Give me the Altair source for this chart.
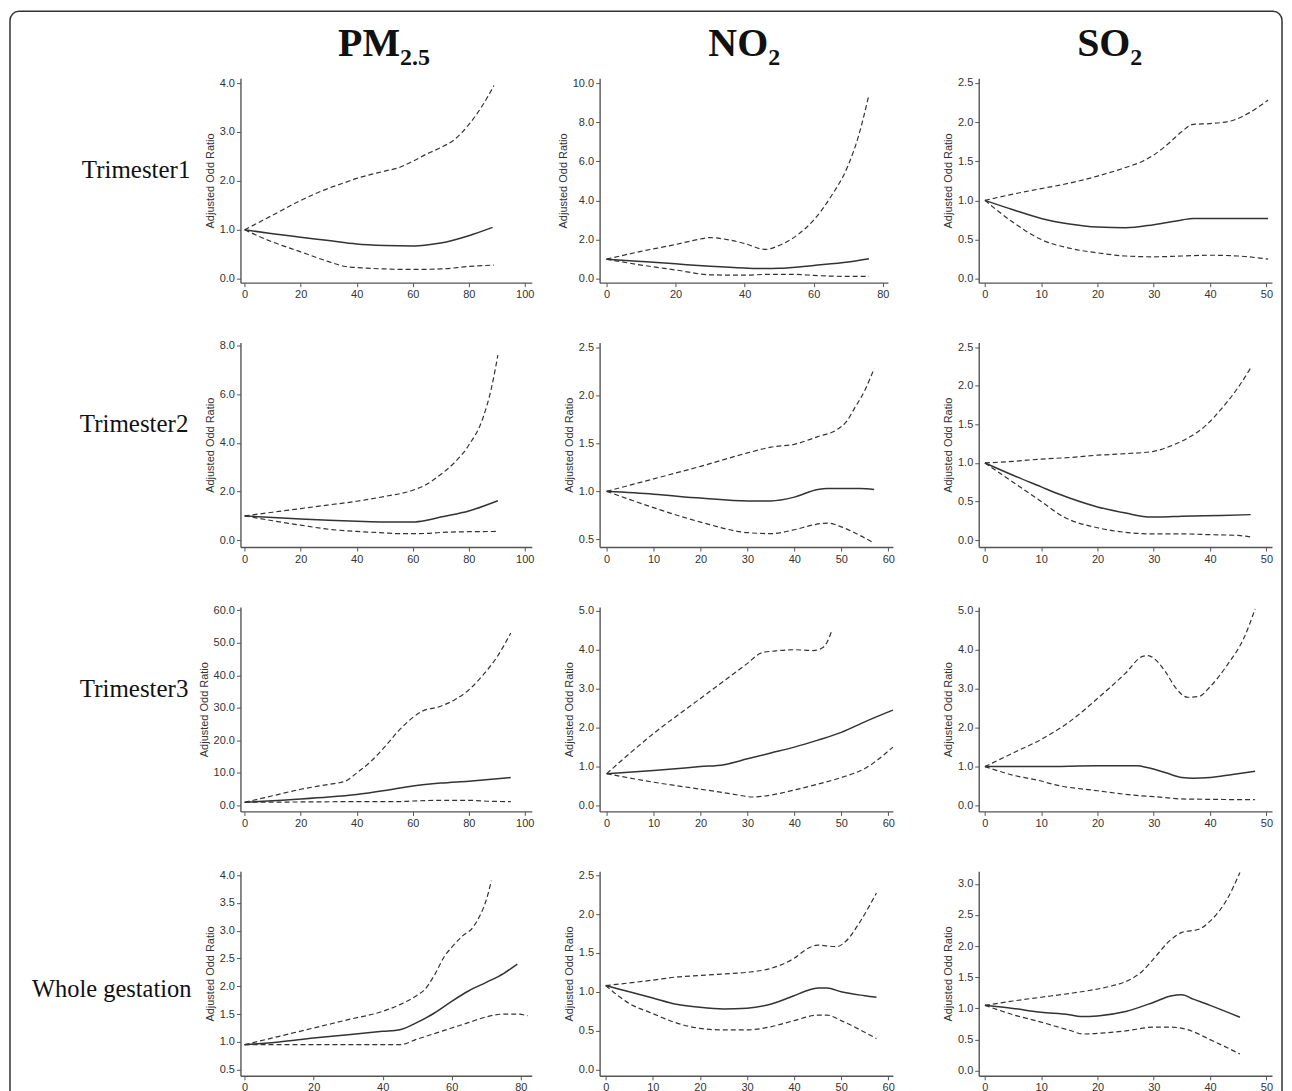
import altair as alt
import pandas as pd

# ---------------- data ----------------
ROW_LABELS = ["Trimester1", "Trimester2", "Trimester3", "Whole gestation"]
COL_MAIN = ["PM", "NO", "SO"]
COL_SUB = ["2.5", "2", "2"]

# PM2.5 - Trimester1
pm_t1_or_x = [0, 10, 20, 30, 40, 50, 60, 65, 70, 80, 88.5]
pm_t1_or_y = [1.0, 0.92, 0.85, 0.78, 0.71, 0.68, 0.67, 0.69, 0.73, 0.88, 1.05]
pm_t1_up_x = [0, 10, 20, 30, 36, 40, 50, 55, 60, 65, 70, 75, 80, 85, 89]
pm_t1_up_y = [1.0, 1.3, 1.6, 1.85, 1.97, 2.05, 2.2, 2.27, 2.4, 2.55, 2.68, 2.85, 3.15, 3.55, 3.95]
pm_t1_lo_x = [0, 10, 20, 30, 36, 40, 50, 60, 70, 80, 89]
pm_t1_lo_y = [1.0, 0.75, 0.55, 0.35, 0.25, 0.23, 0.2, 0.19, 0.2, 0.25, 0.28]

# NO2 - Trimester1
no_t1_or_x = [0, 10, 20, 30, 40, 46, 50, 60, 70, 76]
no_t1_or_y = [1.0, 0.88, 0.76, 0.64, 0.55, 0.52, 0.53, 0.68, 0.85, 1.02]
no_t1_up_x = [0, 10, 20, 25, 30, 35, 40, 46, 50, 55, 60, 65, 70, 73, 76]
no_t1_up_y = [1.0, 1.4, 1.75, 1.95, 2.1, 2.0, 1.8, 1.5, 1.7, 2.2, 3.0, 4.2, 5.8, 7.3, 9.4]
no_t1_lo_x = [0, 10, 20, 30, 40, 46, 55, 60, 70, 76]
no_t1_lo_y = [1.0, 0.7, 0.45, 0.2, 0.18, 0.22, 0.22, 0.17, 0.12, 0.12]

# SO2 - Trimester1
so_t1_or_x = [0, 5, 10, 15, 20, 25, 30, 35, 37, 50.3]
so_t1_or_y = [1.0, 0.88, 0.77, 0.70, 0.66, 0.65, 0.69, 0.75, 0.77, 0.77]
so_t1_up_x = [0, 5, 10, 15, 20, 25, 28, 30, 33, 35, 37, 40, 44, 47, 50.3]
so_t1_up_y = [1.0, 1.08, 1.15, 1.22, 1.31, 1.42, 1.5, 1.58, 1.75, 1.88, 1.97, 1.98, 2.02, 2.12, 2.28]
so_t1_lo_x = [0, 5, 10, 15, 20, 25, 30, 35, 40, 45, 50.3]
so_t1_lo_y = [1.0, 0.72, 0.5, 0.39, 0.33, 0.29, 0.28, 0.29, 0.3, 0.29, 0.25]

# PM2.5 - Trimester2
pm_t2_or_x = [0, 10, 20, 30, 40, 50, 60, 65, 70, 80, 90.4]
pm_t2_or_y = [1.0, 0.93, 0.87, 0.82, 0.78, 0.75, 0.75, 0.82, 0.95, 1.2, 1.62]
pm_t2_up_x = [0, 10, 20, 30, 40, 50, 60, 65, 70, 75, 80, 85, 88, 90.4]
pm_t2_up_y = [1.0, 1.15, 1.3, 1.45, 1.6, 1.8, 2.05, 2.3, 2.7, 3.2, 3.9, 5.0, 6.2, 7.6]
pm_t2_lo_x = [0, 10, 20, 30, 40, 50, 55, 60, 65, 70, 80, 90.4]
pm_t2_lo_y = [1.0, 0.8, 0.62, 0.45, 0.36, 0.3, 0.27, 0.27, 0.28, 0.32, 0.35, 0.36]

# NO2 - Trimester2
no_t2_or_x = [0, 10, 20, 30, 35, 40, 45, 47, 54, 57]
no_t2_or_y = [1.0, 0.97, 0.93, 0.9, 0.9, 0.94, 1.02, 1.03, 1.03, 1.02]
no_t2_up_x = [0, 10, 20, 30, 35, 40, 45, 49, 51, 53, 55, 57]
no_t2_up_y = [1.0, 1.13, 1.26, 1.4, 1.46, 1.49, 1.57, 1.64, 1.72, 1.88, 2.05, 2.28]
no_t2_lo_x = [0, 10, 20, 30, 35, 40, 44, 47, 50, 54, 57]
no_t2_lo_y = [1.0, 0.83, 0.68, 0.57, 0.56, 0.6, 0.65, 0.67, 0.63, 0.54, 0.46]

# SO2 - Trimester2
so_t2_or_x = [0, 5, 10, 13, 20, 25, 29, 31, 35, 42, 47.2]
so_t2_or_y = [1.0, 0.84, 0.69, 0.6, 0.43, 0.35, 0.3, 0.3, 0.31, 0.32, 0.33]
so_t2_up_x = [0, 5, 10, 15, 20, 25, 30, 33, 36, 39, 42, 45, 47.2]
so_t2_up_y = [1.0, 1.02, 1.05, 1.07, 1.1, 1.12, 1.15, 1.22, 1.32, 1.47, 1.7, 1.98, 2.23]
so_t2_lo_x = [0, 5, 10, 14, 20, 25, 30, 35, 40, 45, 47.2]
so_t2_lo_y = [1.0, 0.75, 0.5, 0.3, 0.16, 0.1, 0.08, 0.08, 0.07, 0.06, 0.04]

# PM2.5 - Trimester3
pm_t3_or_x = [0, 10, 20, 30, 40, 50, 60, 70, 80, 95]
pm_t3_or_y = [1.0, 1.5, 2.0, 2.6, 3.4, 4.6, 6.0, 6.9, 7.5, 8.6]
pm_t3_up_x = [0, 10, 20, 30, 36, 40, 45, 50, 55, 60, 63, 70, 75, 80, 85, 90, 95]
pm_t3_up_y = [1.0, 3.0, 5.0, 6.5, 7.5, 10.0, 13.5, 18.0, 23.0, 27.0, 28.8, 30.5, 32.5, 35.5, 40.0, 45.5, 53.0]
pm_t3_lo_x = [0, 20, 40, 55, 60, 70, 80, 88, 95]
pm_t3_lo_y = [1.0, 1.1, 1.2, 1.2, 1.4, 1.6, 1.6, 1.3, 1.2]

# NO2 - Trimester3
no_t3_or_x = [0, 10, 20, 25, 30, 35, 40, 45, 50, 55, 61]
no_t3_or_y = [0.82, 0.9, 1.0, 1.05, 1.2, 1.35, 1.5, 1.68, 1.88, 2.15, 2.45]
no_t3_up_x = [0, 10, 20, 25, 30, 33, 36, 40, 44, 46, 47, 48]
no_t3_up_y = [0.82, 1.85, 2.75, 3.2, 3.65, 3.92, 3.97, 4.0, 3.98, 4.05, 4.2, 4.5]
no_t3_lo_x = [0, 10, 20, 25, 28, 31, 35, 40, 45, 50, 55, 61]
no_t3_lo_y = [0.82, 0.6, 0.42, 0.33, 0.27, 0.22, 0.27, 0.4, 0.55, 0.72, 0.95, 1.5]

# SO2 - Trimester3
so_t3_or_x = [0, 10, 20, 27, 29, 32, 35, 37, 40, 44, 48]
so_t3_or_y = [1.0, 1.0, 1.02, 1.02, 0.97, 0.85, 0.72, 0.7, 0.72, 0.8, 0.88]
so_t3_up_x = [0, 5, 10, 15, 20, 25, 28, 29, 30, 32, 34, 36, 38, 40, 43, 46, 48]
so_t3_up_y = [1.0, 1.35, 1.7, 2.15, 2.75, 3.4, 3.83, 3.85, 3.78, 3.45, 3.0, 2.78, 2.8, 3.05, 3.6, 4.3, 5.05]
so_t3_lo_x = [0, 5, 10, 12, 20, 27, 30, 35, 40, 48]
so_t3_lo_y = [1.0, 0.78, 0.63, 0.55, 0.38, 0.26, 0.23, 0.17, 0.16, 0.15]

# PM2.5 - Whole gestation
pm_wg_or_x = [0, 10, 20, 30, 40, 45, 50, 55, 60, 65, 70, 75, 79]
pm_wg_or_y = [0.95, 1.0, 1.07, 1.13, 1.19, 1.22, 1.35, 1.52, 1.73, 1.92, 2.07, 2.23, 2.4]
pm_wg_up_x = [0, 10, 20, 30, 40, 45, 50, 52, 55, 58, 60, 63, 66, 68, 70, 71.5]
pm_wg_up_y = [0.95, 1.1, 1.25, 1.4, 1.55, 1.67, 1.84, 1.93, 2.2, 2.55, 2.7, 2.9, 3.05, 3.25, 3.55, 3.9]
pm_wg_lo_x = [0, 10, 20, 30, 45, 50, 55, 60, 65, 70, 75, 79, 82]
pm_wg_lo_y = [0.95, 0.95, 0.95, 0.95, 0.95, 1.05, 1.15, 1.25, 1.35, 1.45, 1.5, 1.5, 1.47]

# NO2 - Whole gestation
no_wg_or_x = [0, 5, 10, 15, 20, 25, 30, 35, 40, 43, 45, 47, 50, 55, 57.5]
no_wg_or_y = [1.08, 1.0, 0.92, 0.84, 0.8, 0.78, 0.79, 0.84, 0.95, 1.02, 1.05, 1.05, 1.0, 0.95, 0.93]
no_wg_up_x = [0, 10, 15, 20, 25, 30, 35, 40, 43, 45, 47, 49, 51, 54, 57.5]
no_wg_up_y = [1.08, 1.15, 1.19, 1.21, 1.23, 1.25, 1.3, 1.43, 1.56, 1.6, 1.59, 1.58, 1.65, 1.9, 2.27]
no_wg_lo_x = [0, 5, 10, 15, 20, 25, 30, 35, 40, 45, 47, 50, 55, 57.5]
no_wg_lo_y = [1.08, 0.85, 0.72, 0.6, 0.53, 0.51, 0.51, 0.55, 0.63, 0.7, 0.7, 0.63, 0.48, 0.4]

# SO2 - Whole gestation
so_wg_or_x = [0, 5, 10, 15, 17, 20, 25, 30, 33, 35, 37, 40, 45.3]
so_wg_or_y = [1.05, 1.0, 0.94, 0.9, 0.87, 0.88, 0.95, 1.1, 1.2, 1.22, 1.15, 1.05, 0.86]
so_wg_up_x = [0, 5, 10, 15, 18, 22, 25, 28, 30, 33, 35, 38, 40, 43, 45.3]
so_wg_up_y = [1.05, 1.12, 1.18, 1.24, 1.28, 1.35, 1.43, 1.6, 1.8, 2.1, 2.22, 2.27, 2.4, 2.75, 3.18]
so_wg_lo_x = [0, 5, 10, 15, 17.5, 20, 25, 30, 33, 36, 40, 45.3]
so_wg_lo_y = [1.05, 0.9, 0.78, 0.65, 0.59, 0.6, 0.64, 0.7, 0.7, 0.66, 0.5, 0.27]

# tick labels of every panel (row by row)
X_TICKS = [
    [[0, 20, 40, 60, 80, 100], [0, 20, 40, 60, 80], [0, 10, 20, 30, 40, 50]],
    [[0, 20, 40, 60, 80, 100], [0, 10, 20, 30, 40, 50, 60], [0, 10, 20, 30, 40, 50]],
    [[0, 20, 40, 60, 80, 100], [0, 10, 20, 30, 40, 50, 60], [0, 10, 20, 30, 40, 50]],
    [[0, 20, 40, 60, 80], [0, 10, 20, 30, 40, 50, 60], [0, 10, 20, 30, 40, 50]],
]
Y_TICKS = [
    [[0, 1, 2, 3, 4], [0, 2, 4, 6, 8, 10], [0, 0.5, 1, 1.5, 2, 2.5]],
    [[0, 2, 4, 6, 8], [0.5, 1, 1.5, 2, 2.5], [0, 0.5, 1, 1.5, 2, 2.5]],
    [[0, 10, 20, 30, 40, 50, 60], [0, 1, 2, 3, 4, 5], [0, 1, 2, 3, 4, 5]],
    [[0.5, 1, 1.5, 2, 2.5, 3, 3.5, 4], [0, 0.5, 1, 1.5, 2, 2.5], [0, 0.5, 1, 1.5, 2, 2.5, 3]],
]

# axis extents
X_DOMAIN = [
    [[-1.5, 102.5], [-2, 81.5], [-1.1, 51]],
    [[-1.5, 102.5], [-1.5, 61], [-1.1, 51]],
    [[-1.5, 102.5], [-1.5, 61], [-1.1, 51]],
    [[-1.2, 83.2], [-1.3, 61], [-1.1, 51]],
]
Y_DOMAIN = [
    [[-0.08, 4.1], [-0.2, 10.25], [-0.05, 2.56]],
    [[-0.28, 8.12], [0.42, 2.55], [-0.09, 2.56]],
    [[-1.8, 61], [-0.15, 5.1], [-0.15, 5.1]],
    [[0.39, 4.07], [-0.08, 2.55], [-0.08, 3.2]],
]

SERIES = [
    [(pm_t1_or_x, pm_t1_or_y, pm_t1_up_x, pm_t1_up_y, pm_t1_lo_x, pm_t1_lo_y),
     (no_t1_or_x, no_t1_or_y, no_t1_up_x, no_t1_up_y, no_t1_lo_x, no_t1_lo_y),
     (so_t1_or_x, so_t1_or_y, so_t1_up_x, so_t1_up_y, so_t1_lo_x, so_t1_lo_y)],
    [(pm_t2_or_x, pm_t2_or_y, pm_t2_up_x, pm_t2_up_y, pm_t2_lo_x, pm_t2_lo_y),
     (no_t2_or_x, no_t2_or_y, no_t2_up_x, no_t2_up_y, no_t2_lo_x, no_t2_lo_y),
     (so_t2_or_x, so_t2_or_y, so_t2_up_x, so_t2_up_y, so_t2_lo_x, so_t2_lo_y)],
    [(pm_t3_or_x, pm_t3_or_y, pm_t3_up_x, pm_t3_up_y, pm_t3_lo_x, pm_t3_lo_y),
     (no_t3_or_x, no_t3_or_y, no_t3_up_x, no_t3_up_y, no_t3_lo_x, no_t3_lo_y),
     (so_t3_or_x, so_t3_or_y, so_t3_up_x, so_t3_up_y, so_t3_lo_x, so_t3_lo_y)],
    [(pm_wg_or_x, pm_wg_or_y, pm_wg_up_x, pm_wg_up_y, pm_wg_lo_x, pm_wg_lo_y),
     (no_wg_or_x, no_wg_or_y, no_wg_up_x, no_wg_up_y, no_wg_lo_x, no_wg_lo_y),
     (so_wg_or_x, so_wg_or_y, so_wg_up_x, so_wg_up_y, so_wg_lo_x, so_wg_lo_y)],
]

# ---------------- layout ----------------
PANEL_H = 205
COL_W = [292, 312, 294]          # cell widths
ROW1_XRANGE = [292, 289, 294]     # axis lengths
OTHER_XRANGE = [292, 294, 294]
LINE_COLOR = "#333333"
SERIF = "Liberation Serif"
SANS = "Liberation Sans"

ROW_LABEL_POS = [(-159, 92), (-161, 82), (-161, 82), (-209, 119)]
ROW_LABEL_SIZE = [25, 25, 25, 24.5]
TITLE_SPLIT = [160, 169, 152]


def make_panel(r, c):
    ox, oy, ux, uy, lx, ly = SERIES[r][c]
    df_or = pd.DataFrame({"x": ox, "y": oy})
    df_ci = pd.concat([
        pd.DataFrame({"x": ux, "y": uy, "s": "upper"}),
        pd.DataFrame({"x": lx, "y": ly, "s": "lower"}),
    ], ignore_index=True)

    xr = ROW1_XRANGE[c] if r == 0 else OTHER_XRANGE[c]
    xscale = alt.Scale(domain=X_DOMAIN[r][c], range=[0, xr], nice=False, zero=False)
    yscale = alt.Scale(domain=Y_DOMAIN[r][c], nice=False, zero=False)
    xaxis = alt.Axis(values=X_TICKS[r][c], format="d", grid=False, labelFlush=False,
                     labelOverlap=False, title=None)
    yaxis = alt.Axis(values=Y_TICKS[r][c], format=".1f", grid=False, labelFlush=False,
                     labelOverlap=False, title="Adjusted Odd Ratio")

    solid = alt.Chart(df_or).mark_line(
        color=LINE_COLOR, strokeWidth=1.5, interpolate="monotone"
    ).encode(
        x=alt.X("x:Q", scale=xscale, axis=xaxis),
        y=alt.Y("y:Q", scale=yscale, axis=yaxis),
    )
    dashed = alt.Chart(df_ci).mark_line(
        color=LINE_COLOR, strokeWidth=1.2, strokeDash=[5, 3], interpolate="monotone"
    ).encode(
        x=alt.X("x:Q", scale=xscale, axis=xaxis),
        y=alt.Y("y:Q", scale=yscale, axis=yaxis),
        detail="s:N",
    )
    layers = [solid, dashed]

    if c == 0:
        lx0, ly0 = ROW_LABEL_POS[r]
        layers.append(
            alt.Chart(pd.DataFrame({"t": [ROW_LABELS[r]]})).mark_text(
                align="left", baseline="middle", font=SERIF, fontSize=ROW_LABEL_SIZE[r],
                color="#111111"
            ).encode(x=alt.value(lx0), y=alt.value(ly0), text="t:N")
        )
    if r == 0:
        sx = TITLE_SPLIT[c]
        layers.append(
            alt.Chart(pd.DataFrame({"t": [COL_MAIN[c]]})).mark_text(
                align="right", baseline="alphabetic", font=SERIF, fontSize=40,
                fontWeight="bold", color="#111111"
            ).encode(x=alt.value(sx), y=alt.value(-22), text="t:N")
        )
        layers.append(
            alt.Chart(pd.DataFrame({"t": [COL_SUB[c]]})).mark_text(
                align="left", baseline="alphabetic", font=SERIF, fontSize=24,
                fontWeight="bold", color="#111111"
            ).encode(x=alt.value(sx), y=alt.value(-13), text="t:N")
        )
    if r == 0 and c == 0:
        layers.append(
            alt.Chart(pd.DataFrame({"f": [0]})).mark_rect(
                fillOpacity=0, stroke="#333333", strokeWidth=1.5, cornerRadius=9
            ).encode(x=alt.value(-231), x2=alt.value(1044),
                     y=alt.value(-67), y2=alt.value(1040))
        )
    return alt.layer(*layers).properties(width=COL_W[c], height=PANEL_H)


panels = [make_panel(r, c) for r in range(4) for c in range(3)]

chart = alt.concat(
    *panels, columns=3, spacing={"row": 60, "column": 68}, bounds="flush", align="each"
).properties(
    padding=0
).configure_view(
    stroke="transparent"
).configure_axis(
    domainColor="#555555", domainWidth=1.4, tickColor="#555555", tickSize=4,
    labelColor="#333333", labelFont=SANS, labelFontSize=11,
    titleFont=SANS, titleFontSize=11, titleFontWeight="normal", titleColor="#333333",
    titlePadding=4
)

chart.save("out.html", embed_options={"renderer": "svg", "actions": False})
